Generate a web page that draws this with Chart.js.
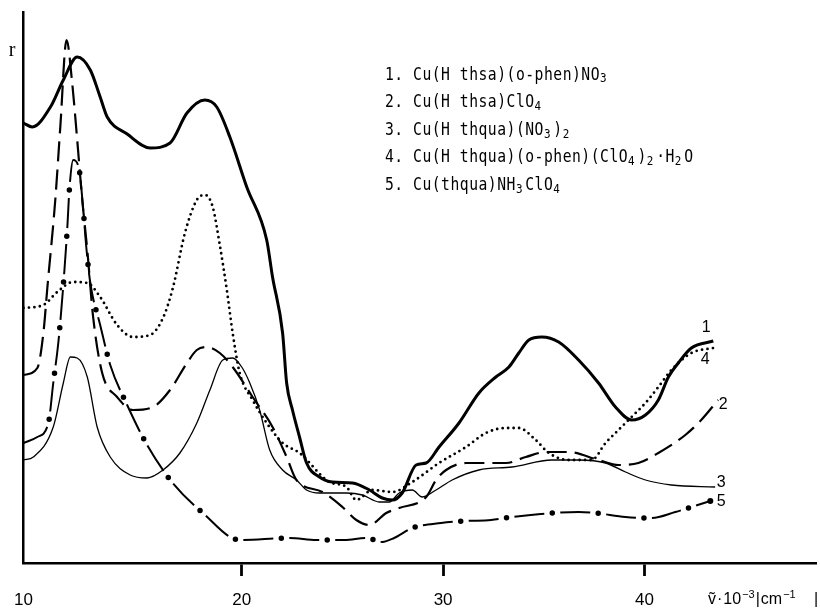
<!DOCTYPE html>
<html><head><meta charset="utf-8">
<script src="https://cdn.jsdelivr.net/npm/chart.js@4/dist/chart.umd.min.js"></script>
<style>html,body{margin:0;padding:0;background:#fff}#wrap{width:820px;height:611px}</style>
</head><body><div id="wrap"><canvas id="c" width="820" height="611"></canvas></div>
<script>
// ---- data (wavenumber in 10^3 cm^-1, r in arbitrary units) ----
const xTicks = [20, 30, 40];
const xOriginLabel = '10';
const X_MIN = 9.16, X_MAX = 48.52, R_MAX = 55.1;

const nu1 = [9.16,9.60,10.50,11.14,11.83,12.48,12.97,13.32,14.31,15.45,16.44,17.28,18.17,18.76,19.41,20.25,21.24,21.53,22.03,22.23,22.52,22.87,23.22,23.86,24.50,25.50,26.34,26.98,27.48,27.97,28.66,29.16,29.80,30.79,31.78,32.62,33.27,33.76,34.26,34.90,35.74,36.73,37.72,38.56,39.36,40.05,40.69,41.19,41.68,42.33,43.42];
const r1  = [44.0,43.6,45.6,48.3,50.6,49.3,46.6,44.6,42.9,41.5,42.0,45.0,46.3,45.6,42.6,37.6,32.3,28.6,23.0,18.0,15.3,12.6,10.0,8.6,8.1,8.0,7.3,6.5,6.3,7.0,9.8,10.0,11.6,14.0,17.0,18.6,19.6,21.0,22.3,22.6,22.1,20.3,18.0,15.6,14.3,14.8,16.3,18.6,20.0,21.5,22.2];

const nu2 = [9.16,9.85,10.15,10.35,10.74,10.99,11.30,11.58,11.83,12.08,12.33,12.62,13.07,13.81,14.60,15.59,16.44,17.28,17.77,18.27,18.91,19.55,20.54,21.53,22.23,22.72,24.01,25.00,25.69,26.34,27.18,27.82,29.16,29.65,30.15,31.14,33.12,34.11,35.10,36.24,37.72,38.71,39.70,40.69,42.03,42.82,43.66];
const r2  = [18.8,19.5,23.0,27.6,36.3,43.6,52.3,48.0,42.3,36.3,31.3,24.6,19.0,16.6,15.3,15.6,17.3,20.0,21.3,21.6,21.0,19.6,16.6,13.6,10.6,8.3,7.1,5.6,4.3,3.8,5.0,5.5,6.6,8.3,9.3,10.0,10.0,10.6,11.1,11.1,10.3,9.8,10.0,11.0,12.8,14.3,16.3];

const nu3 = [9.16,9.65,10.64,11.14,11.49,11.83,12.33,12.82,13.47,14.46,15.30,16.09,16.93,17.77,18.42,19.06,19.55,20.00,20.40,20.89,21.39,22.03,22.72,23.22,23.86,25.20,25.99,26.83,27.33,27.82,28.47,28.96,29.65,30.45,31.78,33.42,35.40,36.73,38.07,39.06,40.05,41.34,43.51];
const r3  = [10.3,10.6,13.6,18.0,20.6,20.5,18.6,13.6,10.6,8.8,8.5,9.3,11.0,14.0,17.3,20.3,20.5,19.6,18.0,15.3,11.3,9.3,8.3,7.3,7.0,7.0,6.8,6.1,6.1,7.0,7.3,6.6,7.3,8.3,9.3,9.6,10.3,10.3,10.0,9.1,8.3,7.8,7.6];

const nu4 = [9.16,10.15,10.84,11.63,12.33,12.97,13.81,14.60,15.45,16.09,16.58,17.18,17.77,18.17,18.56,18.91,19.26,19.55,19.90,20.54,21.24,22.03,22.87,24.36,25.20,25.69,26.49,27.48,28.47,29.80,31.14,32.13,33.12,33.76,34.60,35.25,36.24,37.38,38.07,38.71,39.36,40.05,40.69,41.34,42.33,43.42];
const r4  = [25.5,25.8,27.1,28.1,28.0,26.6,23.8,22.6,22.8,24.5,27.5,33.0,36.3,36.8,35.6,31.8,27.3,23.0,19.0,16.3,14.0,12.0,11.0,8.1,7.6,6.3,7.3,7.1,8.1,10.0,11.6,13.0,13.5,13.5,12.3,11.0,10.3,10.3,12.0,13.3,14.6,16.0,17.6,19.3,21.0,21.5];

const nu5 = [9.16,9.85,10.40,10.64,10.89,11.14,11.34,11.44,11.63,11.93,12.13,12.28,12.48,12.97,13.47,14.31,15.30,16.53,18.07,19.90,22.38,23.71,25.10,26.19,26.98,27.57,28.47,29.90,31.14,32.38,33.42,34.85,36.73,37.57,39.06,40.35,41.53,42.33,43.27];
const r5  = [12.0,12.6,14.0,18.0,22.0,27.8,33.6,37.3,40.3,39.3,35.3,31.6,28.0,23.8,19.8,15.8,11.8,8.1,5.0,2.3,2.5,2.3,2.3,2.5,2.1,2.5,3.5,4.0,4.2,4.3,4.6,4.9,5.1,5.0,4.6,4.5,5.1,5.6,6.2];

const curveNumbers = ['1', '2', '3', '4', '5'];
const legendLines = [
  '1. Cu(H thsa)(o-phen)NO_3',
  '2. Cu(H thsa)ClO_4',
  '3. Cu(H thqua)(NO_3)_2',
  '4. Cu(H thqua)(o-phen)(ClO_4)_2\u00b7H_2O',
  '5. Cu(thqua)NH_3ClO_4'
];
const yAxisLabel = 'r';

// ---- build ----
const pts = (xs, ys) => xs.map((x, i) => ({x, y: ys[i]}));
const base = {borderColor: '#000', backgroundColor: '#000', fill: false, pointRadius: 0, borderJoinStyle: 'round', cubicInterpolationMode: 'monotone'};

const datasets = [
  Object.assign({}, base, {data: pts(nu1, r1), borderWidth: 3}),
  Object.assign({}, base, {data: pts(nu2, r2), borderWidth: 2.2, borderDash: [20, 8]}),
  Object.assign({}, base, {data: pts(nu3, r3), borderWidth: 1.3}),
  Object.assign({}, base, {data: pts(nu4, r4), borderWidth: 2.8, borderDash: [0, 5.5], borderCapStyle: 'round'}),
  Object.assign({}, base, {data: pts(nu5, r5), borderWidth: 2, borderDash: [30, 16],
    pointRadius: c => c.dataIndex === nu5.length - 1 ? 3 : 0, pointBorderWidth: 0}),
  Object.assign({}, base, {data: pts(nu5, r5), borderWidth: 5.5, borderDash: [0, 46], borderDashOffset: 8, borderCapStyle: 'round'})
];

const endLabelOffsets = [[-7, -13], [5, 5], [6, -4], [-8, 12], [11, 1]];

function drawRich(ctx, str, x, y, pitch, size) {
  let i = 0, cx = x;
  while (i < str.length) {
    let ch = str[i], mode = 'n';
    if (ch === '_') { mode = 'sub'; ch = str[i + 1]; i += 2; }
    else i++;
    ctx.save();
    ctx.font = (mode === 'n' ? size : Math.round(size * 0.72)) + 'px "DejaVu Sans Mono"';
    ctx.translate(cx, y + (mode === 'sub' ? 4 : 0));
    ctx.scale(0.84, 1);
    ctx.fillText(ch, 0, 0);
    ctx.restore();
    cx += pitch;
  }
}

const textPlugin = {
  id: 'texts',
  afterDraw(chart) {
    const ctx = chart.ctx, xs = chart.scales.x, ys = chart.scales.y;
    ctx.save();
    ctx.setLineDash([]);
    ctx.fillStyle = '#000';
    ctx.textBaseline = 'middle';
    ctx.textAlign = 'left';
    legendLines.forEach((s, i) => drawRich(ctx, s, 385, 75 + i * 27.6, 9.35, 17.5));
    ctx.font = '20px "Liberation Serif"';
    ctx.textAlign = 'center';
    ctx.fillText(yAxisLabel, 12, 51);
    ctx.font = '16px "Liberation Sans"';
    const ends = [[nu1, r1], [nu2, r2], [nu3, r3], [nu4, r4], [nu5, r5]];
    ends.forEach((e, i) => {
      const n = e[0].length - 1;
      const px = xs.getPixelForValue(e[0][n]) + endLabelOffsets[i][0];
      const py = ys.getPixelForValue(e[1][n]) + endLabelOffsets[i][1];
      ctx.fillText(curveNumbers[i], px, py);
    });
    ctx.textAlign = 'left';
    const parts = [['\u1E7D', 0], ['\u00b7', 0], ['10', 0], ['\u22123', 1], ['|', 0], ['cm', 0], ['\u22121', 1]];
    let cx = 708; const cy = 600;
    parts.forEach(p => {
      ctx.font = (p[1] ? '11px' : '16px') + ' "Liberation Sans", "DejaVu Sans"';
      ctx.fillText(p[0], cx, cy - (p[1] ? 5 : 0));
      cx += ctx.measureText(p[0]).width + 1;
    });
    ctx.font = '16px "Liberation Sans"';
    ctx.fillText('|', 814, cy);
    ctx.restore();
  }
};

new Chart(document.getElementById('c'), {
  type: 'line',
  data: {datasets},
  options: {
    responsive: false, animation: false, devicePixelRatio: 1,
    layout: {padding: {left: 23, top: 12, right: 2, bottom: 0}},
    plugins: {legend: {display: false}, tooltip: {enabled: false}},
    scales: {
      x: {
        type: 'linear', min: X_MIN, max: X_MAX,
        afterBuildTicks: s => { s.ticks = [{value: X_MIN}].concat(xTicks.map(v => ({value: v}))); },
        afterFit: s => { s.height = 48; },
        ticks: {autoSkip: false, maxRotation: 0, padding: 14, color: '#000',
          font: {family: '"Liberation Sans"', size: 17},
          callback: (v, i) => i === 0 ? xOriginLabel : String(v)},
        grid: {display: true, drawOnChartArea: false, drawTicks: true, tickLength: 13, tickWidth: 2.8,
          color: '#000', tickColor: ['rgba(0,0,0,0)', '#000', '#000', '#000']},
        border: {display: true, color: '#000', width: 2.5}
      },
      y: {
        min: 0, max: R_MAX,
        afterFit: s => { s.width = 0; },
        ticks: {display: false},
        grid: {display: false},
        border: {display: true, color: '#000', width: 2.5}
      }
    }
  },
  plugins: [textPlugin]
});
</script></body></html>
